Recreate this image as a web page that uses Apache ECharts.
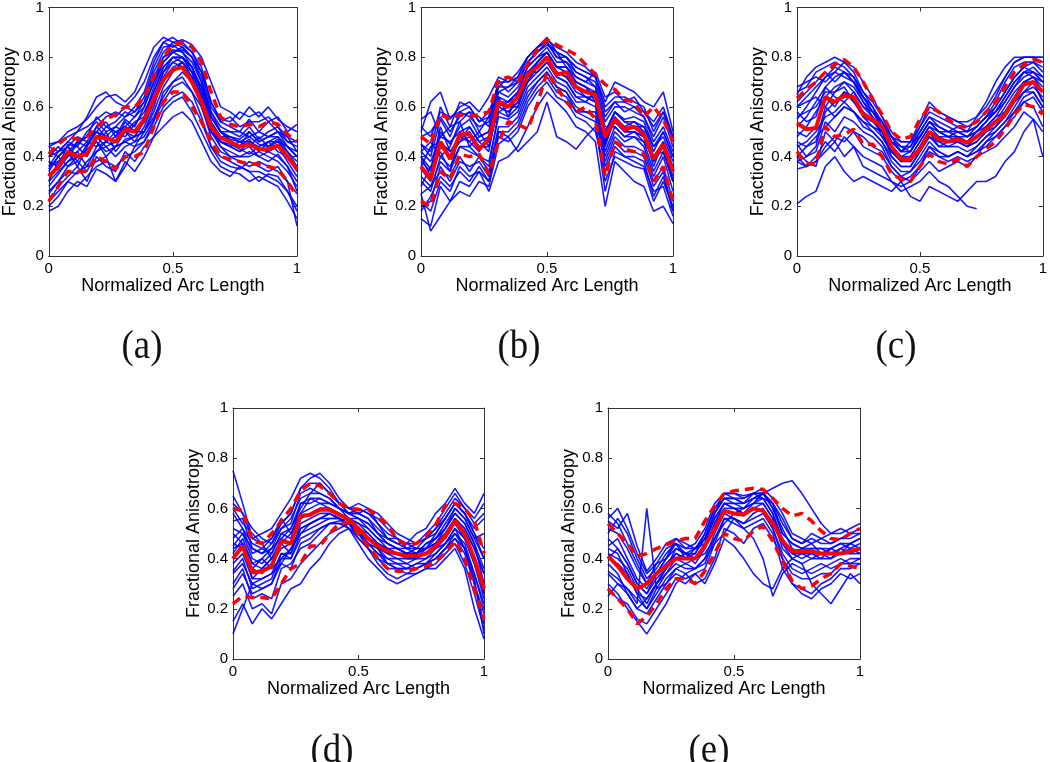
<!DOCTYPE html>
<html>
<head>
<meta charset="utf-8">
<script src="https://cdn.jsdelivr.net/npm/echarts@6/dist/echarts.min.js"></script>
<style>
html,body{margin:0;padding:0;background:#fff;}
#chart{width:1050px;height:762px;}
</style>
</head>
<body>
<div id="chart"></div>
<script>
// sample positions along the normalized arc (27 samples)
const arcLength = Array.from({length: 27}, (_, i) => i / 26);
const panelLabels = ['(a)', '(b)', '(c)', '(d)', '(e)'];
const xAxisName = 'Normalized Arc Length';
const yAxisName = 'Fractional Anisotropy';

// ---------- panel (a) ----------
const aMean  = [.32,.36,.42,.40,.41,.48,.475,.46,.51,.50,.55,.63,.71,.75,.76,.70,.62,.52,.475,.46,.44,.45,.43,.43,.445,.40,.35];
const aUpper = [.41,.45,.48,.47,.48,.52,.55,.57,.60,.60,.64,.72,.80,.85,.86,.84,.78,.66,.56,.53,.52,.53,.52,.54,.53,.49,.46];
const aLower = [.22,.28,.34,.34,.34,.40,.38,.35,.40,.40,.42,.52,.62,.66,.66,.60,.54,.46,.40,.39,.38,.37,.37,.36,.35,.30,.24];
const aCurves = [
  [.45,.46,.50,.52,.55,.60,.64,.65,.62,.66,.75,.84,.88,.86,.87,.85,.80,.70,.60,.58,.55,.60,.56,.60,.55,.52,.50],
  [.18,.20,.26,.30,.28,.35,.33,.30,.38,.34,.40,.48,.58,.62,.64,.58,.50,.42,.36,.34,.33,.30,.32,.30,.28,.22,.15],
  [.35,.40,.44,.38,.45,.50,.46,.48,.55,.52,.60,.70,.80,.83,.82,.76,.66,.54,.48,.46,.44,.47,.42,.46,.48,.42,.38],
  [.28,.33,.38,.42,.36,.44,.50,.42,.47,.48,.50,.58,.68,.74,.78,.72,.62,.50,.44,.42,.40,.42,.40,.38,.41,.36,.30],
  [.40,.44,.40,.45,.48,.56,.52,.54,.58,.56,.62,.74,.82,.86,.84,.80,.72,.58,.52,.50,.48,.52,.47,.50,.52,.46,.44],
  [.25,.30,.34,.33,.38,.42,.44,.40,.44,.46,.48,.55,.62,.68,.70,.66,.60,.48,.42,.40,.38,.36,.38,.36,.34,.30,.25],
  [.38,.36,.45,.44,.40,.47,.52,.50,.48,.53,.58,.66,.76,.80,.80,.76,.68,.56,.50,.47,.46,.44,.48,.44,.46,.44,.40],
  [.30,.38,.42,.36,.44,.52,.48,.46,.54,.50,.50,.60,.72,.78,.76,.70,.62,.50,.46,.44,.42,.46,.43,.42,.44,.38,.32],
  [.22,.28,.32,.36,.30,.40,.36,.34,.42,.38,.44,.48,.52,.56,.58,.54,.46,.38,.34,.32,.36,.34,.30,.33,.32,.26,.20],
  [.36,.42,.46,.50,.56,.64,.66,.62,.60,.58,.62,.72,.80,.82,.80,.74,.64,.52,.46,.44,.46,.48,.45,.44,.47,.40,.36],
  [.42,.40,.36,.40,.43,.46,.42,.44,.46,.48,.56,.68,.78,.82,.83,.80,.74,.62,.54,.52,.50,.55,.50,.54,.50,.48,.42],
  [.20,.24,.30,.34,.36,.38,.40,.30,.36,.44,.46,.54,.66,.70,.72,.66,.56,.44,.38,.36,.35,.38,.36,.34,.36,.30,.12],
  [.33,.35,.40,.42,.46,.44,.46,.50,.52,.50,.54,.62,.70,.76,.78,.72,.60,.50,.46,.45,.43,.41,.44,.46,.42,.40,.34],
  [.44,.46,.48,.50,.52,.55,.58,.56,.60,.64,.70,.80,.86,.88,.85,.82,.76,.62,.55,.54,.58,.56,.58,.54,.56,.50,.53],
  [.40,.42,.46,.44,.50,.54,.50,.52,.56,.58,.64,.76,.84,.85,.82,.78,.70,.58,.50,.48,.47,.50,.46,.48,.50,.44,.40],
  [.26,.30,.36,.38,.34,.42,.46,.44,.50,.46,.52,.62,.74,.80,.80,.74,.64,.52,.44,.40,.40,.40,.42,.40,.38,.34,.28],
  [.36,.38,.40,.46,.44,.50,.54,.48,.52,.56,.60,.70,.78,.82,.84,.80,.70,.56,.50,.50,.50,.48,.50,.48,.50,.46,.46],
  [.30,.34,.38,.40,.42,.46,.40,.44,.46,.44,.50,.56,.64,.70,.74,.70,.62,.52,.46,.44,.42,.44,.40,.42,.40,.36,.26],
  [.44,.42,.44,.48,.46,.52,.56,.58,.56,.60,.66,.78,.86,.84,.86,.82,.74,.60,.54,.56,.52,.54,.54,.56,.52,.48,.46],
  [.22,.26,.30,.28,.32,.36,.38,.36,.40,.42,.46,.52,.60,.64,.66,.62,.54,.44,.40,.38,.36,.34,.34,.32,.30,.26,.18],
  [.34,.40,.44,.40,.42,.48,.44,.46,.50,.48,.54,.64,.74,.78,.80,.76,.66,.54,.48,.48,.46,.46,.44,.46,.46,.42,.36],
  [.38,.36,.42,.46,.48,.50,.48,.52,.50,.54,.56,.66,.76,.80,.78,.74,.68,.56,.50,.46,.44,.50,.46,.48,.48,.44,.42]
];

// ---------- panel (b) ----------
const bMean  = [.36,.31,.46,.39,.49,.49,.43,.47,.62,.60,.64,.73,.76,.80,.73,.74,.68,.66,.65,.48,.55,.51,.52,.49,.39,.45,.34];
const bUpper = [.48,.45,.57,.55,.57,.56,.57,.58,.71,.72,.70,.77,.83,.87,.85,.83,.81,.77,.73,.69,.67,.63,.62,.56,.60,.55,.46];
const bLower = [.22,.20,.34,.31,.41,.40,.41,.33,.46,.54,.53,.51,.61,.74,.68,.62,.58,.60,.55,.32,.46,.43,.42,.41,.30,.36,.22];
const bCurves = [
  [.50,.62,.66,.55,.60,.62,.58,.64,.72,.70,.74,.80,.84,.87,.84,.82,.78,.76,.72,.62,.70,.68,.66,.62,.60,.66,.50],
  [.15,.12,.28,.22,.30,.28,.34,.26,.38,.40,.44,.52,.60,.66,.62,.58,.52,.50,.46,.20,.38,.34,.30,.28,.18,.20,.13],
  [.40,.35,.50,.45,.52,.55,.48,.50,.66,.64,.68,.76,.80,.84,.78,.78,.72,.70,.68,.50,.58,.55,.56,.54,.44,.48,.38],
  [.30,.26,.40,.36,.44,.42,.40,.38,.56,.55,.58,.68,.72,.76,.70,.68,.62,.62,.60,.40,.50,.46,.48,.44,.32,.40,.26],
  [.45,.40,.55,.48,.58,.56,.52,.54,.70,.66,.70,.78,.82,.86,.80,.80,.74,.72,.70,.56,.62,.58,.60,.56,.48,.56,.44],
  [.25,.10,.16,.22,.26,.24,.30,.28,.45,.48,.42,.46,.50,.62,.48,.46,.43,.48,.52,.30,.40,.38,.36,.35,.22,.30,.20],
  [.35,.30,.44,.40,.48,.50,.44,.46,.60,.58,.62,.72,.76,.80,.74,.72,.66,.64,.62,.45,.55,.50,.50,.48,.38,.44,.30],
  [.20,.22,.36,.30,.38,.36,.38,.32,.50,.50,.54,.64,.70,.74,.68,.66,.58,.58,.56,.36,.46,.42,.42,.40,.28,.34,.18],
  [.55,.58,.48,.52,.62,.60,.54,.58,.68,.72,.70,.78,.82,.85,.82,.76,.72,.70,.74,.64,.66,.62,.64,.58,.54,.60,.48],
  [.38,.34,.52,.42,.46,.52,.46,.42,.64,.62,.66,.70,.78,.82,.76,.76,.70,.68,.64,.44,.56,.52,.54,.50,.36,.46,.36],
  [.28,.36,.42,.34,.50,.46,.42,.48,.58,.60,.60,.74,.74,.78,.72,.70,.64,.62,.66,.52,.52,.48,.50,.46,.40,.42,.30],
  [.42,.46,.40,.44,.54,.44,.48,.50,.64,.56,.66,.76,.80,.82,.76,.74,.70,.68,.62,.46,.58,.54,.52,.52,.42,.50,.40],
  [.18,.24,.32,.28,.34,.30,.36,.30,.48,.46,.50,.60,.66,.70,.64,.62,.56,.54,.50,.34,.44,.40,.38,.36,.26,.28,.16],
  [.45,.42,.60,.52,.54,.58,.56,.52,.68,.68,.72,.80,.84,.88,.82,.80,.76,.74,.72,.60,.64,.64,.62,.60,.50,.58,.46],
  [.42,.38,.48,.46,.50,.52,.46,.48,.62,.62,.66,.74,.78,.82,.76,.76,.70,.68,.66,.50,.58,.54,.54,.52,.44,.50,.40],
  [.32,.28,.38,.34,.44,.44,.40,.36,.58,.56,.60,.70,.74,.78,.72,.70,.64,.64,.62,.42,.52,.48,.48,.46,.34,.42,.30],
  [.48,.50,.56,.50,.56,.58,.50,.56,.66,.68,.70,.78,.82,.86,.80,.78,.74,.72,.68,.54,.60,.60,.58,.56,.46,.52,.42],
  [.25,.28,.34,.32,.40,.34,.40,.34,.52,.52,.56,.66,.70,.74,.68,.66,.60,.58,.58,.38,.48,.44,.44,.42,.30,.36,.22],
  [.36,.44,.46,.40,.46,.48,.44,.44,.60,.62,.64,.72,.78,.82,.76,.74,.68,.66,.66,.48,.54,.50,.52,.50,.40,.46,.34],
  [.52,.48,.58,.56,.58,.60,.54,.56,.70,.70,.72,.80,.84,.86,.82,.80,.76,.74,.72,.58,.62,.62,.60,.58,.52,.58,.48],
  [.22,.18,.30,.26,.36,.32,.34,.30,.50,.48,.52,.62,.68,.72,.66,.64,.58,.56,.54,.26,.42,.40,.40,.38,.24,.32,.18],
  [.40,.32,.46,.42,.48,.46,.50,.44,.60,.58,.62,.70,.76,.80,.74,.72,.68,.64,.64,.46,.54,.50,.50,.48,.38,.44,.32]
];

// ---------- panel (c) ----------
const cMean  = [.535,.51,.515,.64,.62,.645,.64,.57,.55,.52,.44,.39,.39,.43,.50,.47,.46,.47,.455,.48,.51,.54,.57,.63,.69,.70,.66];
const cUpper = [.635,.67,.70,.74,.77,.79,.76,.70,.63,.57,.50,.47,.48,.55,.60,.58,.55,.52,.52,.54,.58,.62,.68,.74,.77,.79,.78];
const cLower = [.42,.37,.37,.52,.48,.49,.51,.45,.45,.40,.33,.31,.30,.36,.41,.38,.37,.39,.36,.40,.43,.46,.51,.57,.61,.60,.57];
const cCurves = [
  [.65,.72,.76,.78,.80,.78,.74,.66,.60,.52,.46,.42,.44,.52,.58,.56,.54,.52,.50,.56,.62,.70,.76,.80,.80,.80,.80],
  [.38,.36,.40,.46,.42,.48,.44,.40,.38,.36,.30,.28,.30,.34,.38,.34,.36,.38,.36,.40,.42,.44,.48,.52,.58,.55,.50],
  [.55,.60,.66,.72,.76,.74,.70,.62,.56,.48,.42,.38,.40,.46,.52,.50,.48,.46,.46,.50,.54,.60,.66,.72,.76,.74,.70],
  [.45,.40,.44,.58,.62,.66,.64,.56,.54,.50,.40,.36,.36,.42,.48,.44,.44,.46,.44,.46,.50,.52,.56,.62,.66,.70,.62],
  [.62,.66,.70,.74,.70,.74,.72,.64,.58,.54,.46,.44,.42,.50,.56,.52,.50,.52,.50,.52,.56,.62,.70,.76,.78,.78,.76],
  [.21,.24,.26,.36,.40,.34,.30,.32,.30,.28,.26,.30,.24,.22,.28,.26,.24,.22,.26,.30,.30,.32,.38,.42,.50,.55,.40],
  [.50,.48,.52,.64,.60,.66,.62,.58,.55,.50,.44,.40,.38,.44,.50,.48,.46,.48,.46,.50,.52,.56,.58,.64,.70,.72,.68],
  [.40,.44,.48,.52,.56,.60,.58,.52,.50,.46,.38,.34,.34,.40,.46,.42,.40,.42,.40,.42,.44,.48,.52,.58,.64,.66,.60],
  [.58,.54,.56,.68,.64,.62,.66,.60,.58,.54,.48,.42,.46,.48,.54,.50,.50,.50,.48,.52,.56,.58,.62,.68,.72,.74,.72],
  [.35,.36,.38,.42,.46,.40,.44,.36,.34,.32,.30,.26,.28,.30,.34,.30,.28,.24,.20,.19,null,null,null,null,null,null,null],
  [.48,.52,.58,.64,.68,.70,.68,.62,.58,.52,.44,.40,.40,.46,.52,.48,.48,.48,.46,.48,.52,.56,.62,.68,.74,.72,.66],
  [.68,.70,.72,.70,.74,.78,.76,.70,.64,.56,.48,.46,.46,.52,.60,.58,.56,.54,.52,.54,.58,.64,.72,.78,.80,.80,.78],
  [.42,.38,.36,.50,.46,.52,.50,.48,.44,.42,.36,.32,.30,.36,.42,.40,.38,.40,.38,.40,.46,.50,.54,.58,.62,.60,.52],
  [.60,.62,.64,.60,.66,.68,.62,.56,.52,.50,.42,.40,.38,.44,.50,.44,.46,.46,.44,.48,.50,.54,.60,.66,.70,.72,.70],
  [.52,.56,.62,.68,.72,.74,.70,.64,.58,.52,.44,.40,.42,.48,.54,.52,.50,.48,.48,.50,.54,.58,.64,.70,.74,.76,.72],
  [.44,.46,.50,.56,.58,.62,.58,.54,.50,.46,.40,.36,.36,.42,.48,.46,.44,.44,.42,.44,.48,.50,.54,.60,.66,.68,.64],
  [.66,.68,.74,.76,.78,.76,.72,.66,.62,.56,.50,.46,.46,.54,.62,.58,.56,.54,.54,.56,.60,.66,.72,.78,.80,.80,.80],
  [.38,.40,.42,.54,.50,.56,.54,.50,.48,.44,.36,.32,.34,.38,.44,.42,.40,.42,.40,.42,.46,.48,.52,.56,.62,.64,.58],
  [.56,.58,.60,.66,.66,.70,.66,.60,.56,.52,.46,.42,.42,.48,.54,.50,.48,.50,.48,.50,.54,.58,.64,.70,.74,.74,.70],
  [.40,.36,.38,.44,.48,.46,.50,.44,.42,.40,.34,.30,.32,.36,.44,.40,.40,.42,.40,.44,.48,.52,.58,.64,.70,.70,.62],
  [.60,.64,.68,.72,.74,.72,.70,.64,.60,.54,.48,.44,.44,.50,.56,.54,.52,.50,.50,.52,.56,.60,.66,.72,.76,.78,.74],
  [.46,.44,.46,.60,.56,.60,.58,.54,.52,.48,.42,.38,.38,.44,.50,.46,.46,.46,.44,.46,.50,.54,.56,.62,.66,.66,.60]
];

// ---------- panel (d) ----------
const dMean  = [.40,.45,.345,.35,.37,.47,.46,.57,.575,.595,.595,.575,.555,.52,.48,.45,.43,.42,.41,.41,.42,.45,.49,.55,.50,.40,.28];
const dUpper = [.60,.59,.47,.46,.50,.55,.60,.67,.70,.69,.66,.62,.60,.595,.595,.57,.535,.475,.455,.46,.49,.535,.61,.62,.60,.55,.42];
const dLower = [.22,.25,.245,.245,.24,.30,.36,.38,.45,.45,.50,.54,.545,.50,.45,.40,.36,.35,.35,.36,.37,.39,.42,.47,.40,.28,.16];
const dCurves = [
  [.75,.62,.48,.50,.52,.58,.64,.72,.74,.72,.68,.62,.60,.62,.60,.54,.48,.46,.46,.50,.52,.58,.62,.68,.62,.58,.66],
  [.15,.22,.14,.20,.16,.22,.28,.30,.36,.40,.46,.50,.52,.46,.40,.36,.32,.30,.32,.34,.36,.36,.40,.44,.36,.20,.08],
  [.45,.50,.40,.38,.42,.50,.48,.62,.62,.64,.62,.60,.58,.56,.52,.48,.46,.44,.44,.42,.46,.48,.52,.58,.54,.46,.30],
  [.35,.40,.28,.30,.32,.42,.40,.50,.52,.54,.56,.56,.54,.48,.44,.40,.38,.38,.36,.38,.38,.42,.46,.50,.46,.34,.20],
  [.55,.56,.44,.42,.44,.52,.54,.66,.68,.66,.64,.60,.58,.58,.56,.50,.48,.48,.44,.46,.48,.52,.56,.62,.58,.50,.40],
  [.30,.36,.24,.26,.24,.36,.38,.44,.46,.50,.54,.55,.56,.52,.48,.44,.40,.38,.38,.36,.38,.40,.44,.48,.44,.30,.14],
  [.60,.54,.50,.46,.40,.48,.52,.60,.66,.70,.66,.62,.60,.60,.58,.56,.52,.48,.46,.44,.44,.50,.56,.62,.58,.52,.56],
  [.40,.44,.36,.34,.38,.44,.46,.56,.58,.60,.60,.58,.55,.52,.46,.44,.42,.40,.40,.40,.42,.44,.48,.54,.50,.40,.26],
  [.50,.46,.32,.36,.40,.46,.42,.54,.56,.58,.58,.56,.54,.50,.48,.46,.42,.42,.40,.40,.44,.46,.50,.56,.52,.44,.34],
  [.25,.30,.20,.22,.18,.30,.32,.38,.42,.46,.50,.52,.54,.50,.44,.38,.34,.32,.34,.34,.36,.38,.42,.46,.38,.26,.12],
  [.65,.58,.52,.48,.46,.54,.58,.68,.72,.74,.70,.64,.60,.58,.60,.58,.54,.50,.48,.46,.50,.54,.60,.66,.60,.56,.62],
  [.42,.48,.38,.40,.36,.40,.44,.50,.54,.56,.58,.56,.54,.52,.50,.46,.44,.42,.42,.44,.44,.46,.50,.54,.48,.38,.24],
  [.10,.20,.30,.32,.34,.38,.44,.52,.54,.56,.58,.56,.52,.50,.48,.44,.38,.36,.36,.38,.40,.44,.46,.52,.44,.32,.10],
  [.48,.52,.42,.44,.48,.56,.50,.58,.64,.62,.62,.60,.56,.56,.54,.50,.46,.44,.42,.42,.46,.48,.52,.60,.56,.48,.40],
  [.52,.50,.44,.42,.46,.52,.56,.64,.66,.66,.64,.60,.58,.58,.56,.52,.48,.46,.44,.44,.48,.50,.56,.62,.58,.50,.44],
  [.38,.42,.32,.32,.34,.42,.42,.52,.54,.56,.56,.56,.54,.50,.46,.42,.40,.40,.38,.40,.40,.42,.46,.52,.48,.38,.26],
  [.58,.52,.46,.44,.42,.50,.52,.62,.64,.64,.62,.60,.58,.56,.54,.50,.46,.44,.42,.42,.44,.48,.54,.60,.56,.48,.50],
  [.28,.34,.26,.28,.30,.38,.36,.46,.48,.52,.54,.54,.54,.50,.46,.42,.38,.36,.36,.36,.38,.40,.44,.48,.42,.30,.18],
  [.44,.46,.38,.36,.40,.46,.50,.58,.60,.62,.60,.58,.56,.54,.50,.46,.44,.42,.42,.42,.44,.46,.50,.56,.52,.44,.34],
  [.62,.58,.48,.46,.48,.54,.58,.68,.70,.70,.66,.62,.58,.60,.58,.54,.50,.48,.46,.46,.48,.52,.58,.64,.60,.54,.58],
  [.34,.38,.30,.28,.30,.40,.40,.48,.50,.52,.54,.54,.52,.48,.44,.40,.36,.36,.34,.36,.38,.40,.44,.50,.44,.34,.22],
  [.46,.44,.36,.40,.44,.48,.46,.56,.58,.60,.60,.58,.56,.54,.52,.48,.44,.44,.42,.42,.44,.46,.52,.58,.54,.46,.36]
];

// ---------- panel (e) ----------
const eMean  = [.41,.37,.32,.28,.30,.34,.37,.40,.40,.40,.45,.52,.59,.58,.575,.60,.59,.54,.47,.43,.43,.43,.42,.42,.42,.43,.44];
const eUpper = [.54,.50,.46,.41,.42,.44,.455,.47,.48,.48,.55,.61,.66,.67,.675,.68,.675,.64,.60,.57,.58,.55,.51,.48,.475,.50,.52];
const eLower = [.28,.24,.20,.14,.17,.22,.28,.32,.32,.30,.35,.42,.50,.48,.47,.51,.53,.47,.39,.31,.28,.29,.32,.34,.38,.37,.36];
const eCurves = [
  [.55,.52,.58,.45,.35,.40,.46,.48,.44,.46,.52,.62,.66,.66,.65,.66,.64,.62,.56,.48,.46,.50,.48,.46,.48,.50,.52],
  [.30,.26,.20,.15,.10,.16,.22,.30,.34,.30,.32,.40,.52,.50,.46,.52,.54,.48,.40,.30,.26,.24,.28,.30,.34,.32,.34],
  [.45,.48,.40,.32,.28,.34,.38,.42,.40,.44,.48,.56,.62,.60,.58,.62,.64,.58,.46,.42,.40,.42,.40,.44,.42,.46,.48],
  [.38,.34,.26,.20,.24,.30,.34,.38,.36,.36,.40,.50,.58,.56,.54,.58,.60,.52,.42,.36,.34,.36,.38,.36,.38,.40,.40],
  [.50,.56,.50,.40,.32,.36,.42,.46,.42,.40,.46,.58,.64,.62,.62,.64,.66,.60,.52,.44,.42,.44,.44,.42,.44,.46,.44],
  [.25,.30,.28,.22,.60,.28,.30,.34,.32,.34,.30,.38,.48,.45,.40,.34,.30,.28,.36,.40,.38,.30,.26,.22,.28,.34,.30],
  [.42,.40,.36,.28,.22,.30,.36,.44,.42,.38,.44,.54,.62,.60,.60,.62,.62,.56,.44,.40,.42,.40,.42,.40,.44,.42,.42],
  [.35,.32,.28,.24,.20,.26,.32,.36,.38,.40,.42,.48,.54,.58,.60,.62,.66,.68,.70,.71,.66,.60,.54,.50,.52,.50,.50],
  [.48,.44,.38,.30,.26,.34,.40,.46,.40,.42,.50,.60,.64,.64,.62,.66,.66,.62,.50,.46,.44,.46,.42,.44,.46,.44,.46],
  [.28,.24,.22,.16,.14,.20,.26,.32,.30,.34,.36,.46,.56,.54,.52,.54,.56,.50,.36,.30,.28,.26,.30,.32,.36,.36,.38],
  [.58,.54,.46,.38,.30,.38,.40,.48,.46,.44,.48,.58,.66,.64,.64,.66,.68,.64,.58,.50,.48,.46,.48,.50,.50,.52,.54],
  [.40,.38,.34,.26,.20,.28,.34,.40,.38,.36,.40,.46,.50,.56,.52,.48,.40,.25,.34,.38,.36,.34,.36,.38,.40,.38,.40],
  [.52,.50,.44,.36,.30,.34,.40,.44,.42,.42,.48,.58,.64,.64,.62,.64,.66,.60,.50,.46,.44,.44,.44,.44,.46,.46,.48],
  [.34,.30,.26,.20,.18,.24,.30,.36,.34,.36,.38,.48,.56,.56,.54,.56,.58,.52,.40,.34,.32,.32,.34,.34,.38,.38,.38],
  [.44,.42,.34,.26,.24,.30,.36,.42,.40,.40,.44,.54,.60,.60,.58,.60,.62,.56,.46,.40,.38,.40,.40,.40,.42,.42,.44],
  [.40,.44,.38,.30,.26,.32,.36,.40,.42,.44,.46,.56,.62,.62,.60,.64,.64,.58,.48,.42,.42,.42,.42,.42,.42,.44,.42],
  [.56,.60,.52,.42,.34,.38,.44,.46,.44,.44,.50,.60,.66,.66,.64,.66,.66,.62,.54,.48,.46,.48,.46,.46,.48,.48,.50]
];

const panels = [
  {mean: aMean, upper: aUpper, lower: aLower, curves: aCurves},
  {mean: bMean, upper: bUpper, lower: bLower, curves: bCurves},
  {mean: cMean, upper: cUpper, lower: cLower, curves: cCurves},
  {mean: dMean, upper: dUpper, lower: dLower, curves: dCurves},
  {mean: eMean, upper: eUpper, lower: eLower, curves: eCurves}
];

// layout (pixels)
const grids = [
  {left: 44,  top: 5,   width: 253, height: 251},
  {left: 421, top: 5,   width: 252, height: 251},
  {left: 797, top: 5,   width: 250, height: 251},
  {left: 233, top: 408, width: 251, height: 251},
  {left: 608, top: 408, width: 252, height: 251}
];
const labelPos = [[142, 347], [519, 347], [896, 347], [332, 751], [709, 751]];

const axisColor = '#333';
const tickFont = {fontFamily: 'Liberation Sans, Arial, sans-serif', fontSize: 15, color: '#000'};
const nameFont = {fontFamily: 'Liberation Sans, Arial, sans-serif', fontSize: 18, color: '#000'};

const option = {
  animation: false,
  backgroundColor: '#fff',
  grid: grids.map(g => Object.assign({containLabel: false}, g)),
  xAxis: [], yAxis: [], series: [], graphic: []
};

const toPts = vals => arcLength.map((x, i) => [x, vals[i]]);

panels.forEach((p, k) => {
  const xb = option.xAxis.length;
  option.xAxis.push({
    type: 'value', gridIndex: k, min: 0, max: 1, interval: 0.5, position: 'bottom',
    name: xAxisName, nameLocation: 'middle', nameGap: 18, nameTextStyle: nameFont,
    axisLine: {show: true, onZero: false, lineStyle: {color: axisColor, width: 1}},
    axisTick: {show: true, inside: true, length: 4, lineStyle: {color: axisColor}},
    axisLabel: Object.assign({margin: 5}, tickFont),
    splitLine: {show: false}
  });
  option.xAxis.push({
    type: 'value', gridIndex: k, min: 0, max: 1, interval: 0.5, position: 'top',
    axisLine: {show: true, onZero: false, lineStyle: {color: axisColor, width: 1}},
    axisTick: {show: true, inside: true, length: 4, lineStyle: {color: axisColor}},
    axisLabel: {show: false}, splitLine: {show: false}
  });
  const yb = option.yAxis.length;
  option.yAxis.push({
    type: 'value', gridIndex: k, min: 0, max: 1, interval: 0.2, position: 'left',
    name: yAxisName, nameLocation: 'middle', nameGap: 21, nameTextStyle: nameFont,
    axisLine: {show: true, onZero: false, lineStyle: {color: axisColor, width: 1}},
    axisTick: {show: true, inside: true, length: 4, lineStyle: {color: axisColor}},
    axisLabel: Object.assign({margin: 5}, tickFont),
    splitLine: {show: false}
  });
  option.yAxis.push({
    type: 'value', gridIndex: k, min: 0, max: 1, interval: 0.2, position: 'right',
    axisLine: {show: true, onZero: false, lineStyle: {color: axisColor, width: 1}},
    axisTick: {show: true, inside: true, length: 4, lineStyle: {color: axisColor}},
    axisLabel: {show: false}, splitLine: {show: false}
  });
  p.curves.forEach(c => {
    option.series.push({
      type: 'line', xAxisIndex: xb, yAxisIndex: yb, data: toPts(c),
      symbol: 'none', silent: true, z: 2,
      lineStyle: {color: '#0000ff', width: 1.6, opacity: 0.9}
    });
  });
  [p.upper, p.lower].forEach(d => {
    option.series.push({
      type: 'line', xAxisIndex: xb, yAxisIndex: yb, data: toPts(d),
      symbol: 'none', silent: true, z: 3,
      lineStyle: {color: '#ff0000', width: 3.5, type: [9, 6]}
    });
  });
  option.series.push({
    type: 'line', xAxisIndex: xb, yAxisIndex: yb, data: toPts(p.mean),
    symbol: 'none', silent: true, z: 4,
    lineStyle: {color: '#ff0000', width: 4}
  });
  option.graphic.push({
    type: 'text', x: labelPos[k][0], y: labelPos[k][1], scaleX: 0.92,
    style: {text: panelLabels[k], font: '40px "Liberation Serif", serif', fill: '#111',
            align: 'center', verticalAlign: 'middle'}
  });
});

const chart = echarts.init(document.getElementById('chart'), null, {renderer: 'canvas'});
chart.setOption(option);
</script>
</body>
</html>
